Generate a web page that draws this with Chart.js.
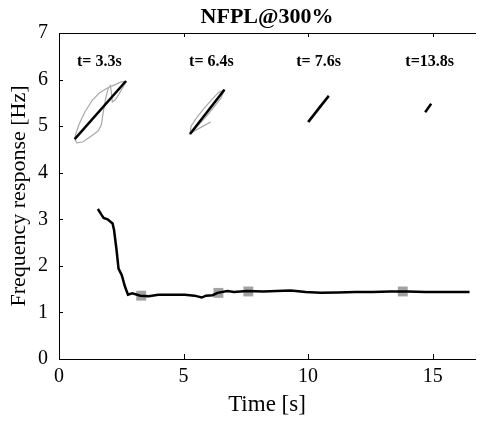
<!DOCTYPE html>
<html>
<head>
<meta charset="utf-8">
<script src="https://cdn.jsdelivr.net/npm/chart.js@4.4.1/dist/chart.umd.min.js"></script>
<style>
  html, body { margin: 0; padding: 0; background: #fff; }
  #wrap { width: 482px; height: 421px; }
</style>
</head>
<body>
<div id="wrap"><canvas id="myChart" width="482" height="421"></canvas></div>
<script>
// frequency response over time
var timeS = [1.56, 1.69, 1.79, 1.95, 2.15, 2.21, 2.31, 2.39, 2.52, 2.65, 2.77, 2.94, 3.27, 3.6, 3.99, 4.5, 5.05, 5.44, 5.73, 5.9, 6.17, 6.36, 6.76, 7.02, 7.55, 8.2, 8.73, 9.3, 9.9, 10.5, 11.2, 11.9, 12.6, 13.3, 14.0, 14.7, 15.4, 16.0, 16.48];
var freqHz = [3.22, 3.11, 3.03, 3.00, 2.91, 2.77, 2.34, 1.94, 1.80, 1.55, 1.38, 1.41, 1.36, 1.35, 1.38, 1.38, 1.38, 1.36, 1.32, 1.36, 1.37, 1.42, 1.46, 1.44, 1.46, 1.45, 1.46, 1.47, 1.44, 1.42, 1.43, 1.44, 1.44, 1.45, 1.45, 1.44, 1.44, 1.44, 1.44];

// sampled instants (grey squares)
var markTime = [3.3, 6.4, 7.6, 13.8];
var markFreq = [1.36, 1.42, 1.45, 1.45];
var markLabels = ["t= 3.3s", "t= 6.4s", "t= 7.6s", "t=13.8s"];

// inset loops, drawn in the axes' units
var loopGray = [
  [[0.63,4.72],[0.72,4.64],[0.95,4.66],[1.30,4.79],[1.58,4.90],[1.70,5.03],[1.78,5.31],[1.86,5.56],[1.98,5.82],[2.06,5.87],[2.10,5.74],[2.14,5.52],[2.25,5.56],[2.41,5.69],[2.57,5.84],[2.69,5.95],[2.49,5.95],[2.21,5.88],[1.94,5.82],[1.62,5.71],[1.34,5.56],[1.03,5.30],[0.79,5.02],[0.67,4.83],[0.63,4.72]],
  [[6.09,5.09],[5.75,4.99],[5.45,4.90],[5.26,4.83],[5.30,5.00],[5.55,5.20],[5.85,5.40],[6.15,5.58],[6.40,5.72],[6.64,5.78],[6.50,5.60],[6.20,5.40],[5.90,5.20],[5.60,5.02],[5.35,4.88]],
  [[10.0,5.09],[10.45,5.43],[10.83,5.65],[10.5,5.40],[10.05,5.08]],
  [[14.70,5.30],[14.94,5.48]]
];
var loopFit = [
  [[0.63,4.72],[2.69,5.97]],
  [[5.26,4.83],[6.64,5.78]],
  [[10.0,5.09],[10.83,5.65]],
  [[14.70,5.30],[14.94,5.48]]
];
var labelX = [1.62, 6.12, 10.42, 14.88];
var labelY = 6.38;

var xTicks = [0, 5, 10, 15];
var yTicks = [0, 1, 2, 3, 4, 5, 6, 7];

Chart.defaults.font.family = '"Liberation Serif", "Times New Roman", serif';
Chart.defaults.color = "#000";

function pts(list) {
  return list.map(function (p) { return { x: p[0], y: p[1] }; });
}

var datasets = [];
datasets.push({
  data: timeS.map(function (t, i) { return { x: t, y: freqHz[i] }; }),
  showLine: true, borderColor: "#000", borderWidth: 2.5, pointRadius: 0, order: 0
});
datasets.push({
  data: markTime.map(function (t, i) { return { x: t, y: markFreq[i] }; }),
  pointStyle: "rect", pointRadius: 7, backgroundColor: "#a3a3a3", borderWidth: 0, order: 1
});
loopFit.forEach(function (l) {
  datasets.push({ data: pts(l), showLine: true, borderColor: "#000", borderWidth: 2.5, pointRadius: 0, order: 2 });
});
loopGray.forEach(function (l) {
  datasets.push({ data: pts(l), showLine: true, borderColor: "#a8a8a8", borderWidth: 1.2, pointRadius: 0, order: 3 });
});

// inward tick marks and inset labels
var frame = {
  id: "frame",
  afterDatasetsDraw: function (chart) {
    var c = chart.ctx, a = chart.chartArea, xs = chart.scales.x, ys = chart.scales.y;
    var t0 = Math.round(a.top), b0 = Math.round(a.bottom), l0 = Math.round(a.left);
    c.save();
    c.fillStyle = "#000000";
    c.fillRect(l0, t0, Math.round(a.right) - l0, 1);
    xTicks.forEach(function (v) {
      var px = Math.round(xs.getPixelForValue(v));
      c.fillRect(px, b0 - 5, 1, 5);
      c.fillRect(px, t0, 1, 4);
    });
    yTicks.forEach(function (v) {
      var py = Math.round(ys.getPixelForValue(v));
      c.fillRect(l0, py, 4, 1);
    });
    c.font = 'bold 16px "Liberation Serif"';
    c.textAlign = "center";
    c.textBaseline = "middle";
    markLabels.forEach(function (s, i) {
      c.fillText(s, xs.getPixelForValue(labelX[i]), ys.getPixelForValue(labelY));
    });
    c.restore();
  }
};

var ctx = document.getElementById("myChart").getContext("2d");
var myChart = new Chart(ctx, {
  type: "scatter",
  data: { datasets: datasets },
  plugins: [frame],
  options: {
    responsive: false,
    animation: false,
    events: [],
    layout: { padding: 0 },
    plugins: {
      legend: { display: false },
      tooltip: { enabled: false },
      title: {
        display: true,
        text: "NFPL@300%",
        fullSize: false,
        font: { size: 22, weight: "bold" },
        padding: { top: 4, bottom: 2.6 }
      }
    },
    scales: {
      x: {
        type: "linear",
        min: 0,
        max: 16.7,
        ticks: { stepSize: 5, includeBounds: false, padding: 6, font: { size: 20 } },
        grid: { drawOnChartArea: false, drawTicks: false },
        border: { display: true, color: "#000", width: 1 },
        title: { display: true, text: "Time [s]", font: { size: 23 }, padding: { top: 0, bottom: 2 } },
        afterFit: function (s) { s.height = 62; }
      },
      x2: {
        type: "linear",
        position: "top",
        min: 0,
        max: 16.7,
        ticks: { display: false },
        grid: { drawOnChartArea: false, drawTicks: false },
        border: { display: true, color: "#000", width: 1 },
        afterFit: function (s) { s.height = 0; }
      },
      y: {
        type: "linear",
        min: 0,
        max: 7,
        ticks: { stepSize: 1, padding: 11, font: { size: 20 } },
        grid: { drawOnChartArea: false, drawTicks: false },
        border: { display: true, color: "#000", width: 1 },
        title: { display: true, text: "Frequency response [Hz]", font: { size: 22 }, padding: { top: 6, bottom: 0 } },
        afterFit: function (s) { s.width = 59; }
      }
    }
  }
});
</script>
</body>
</html>
